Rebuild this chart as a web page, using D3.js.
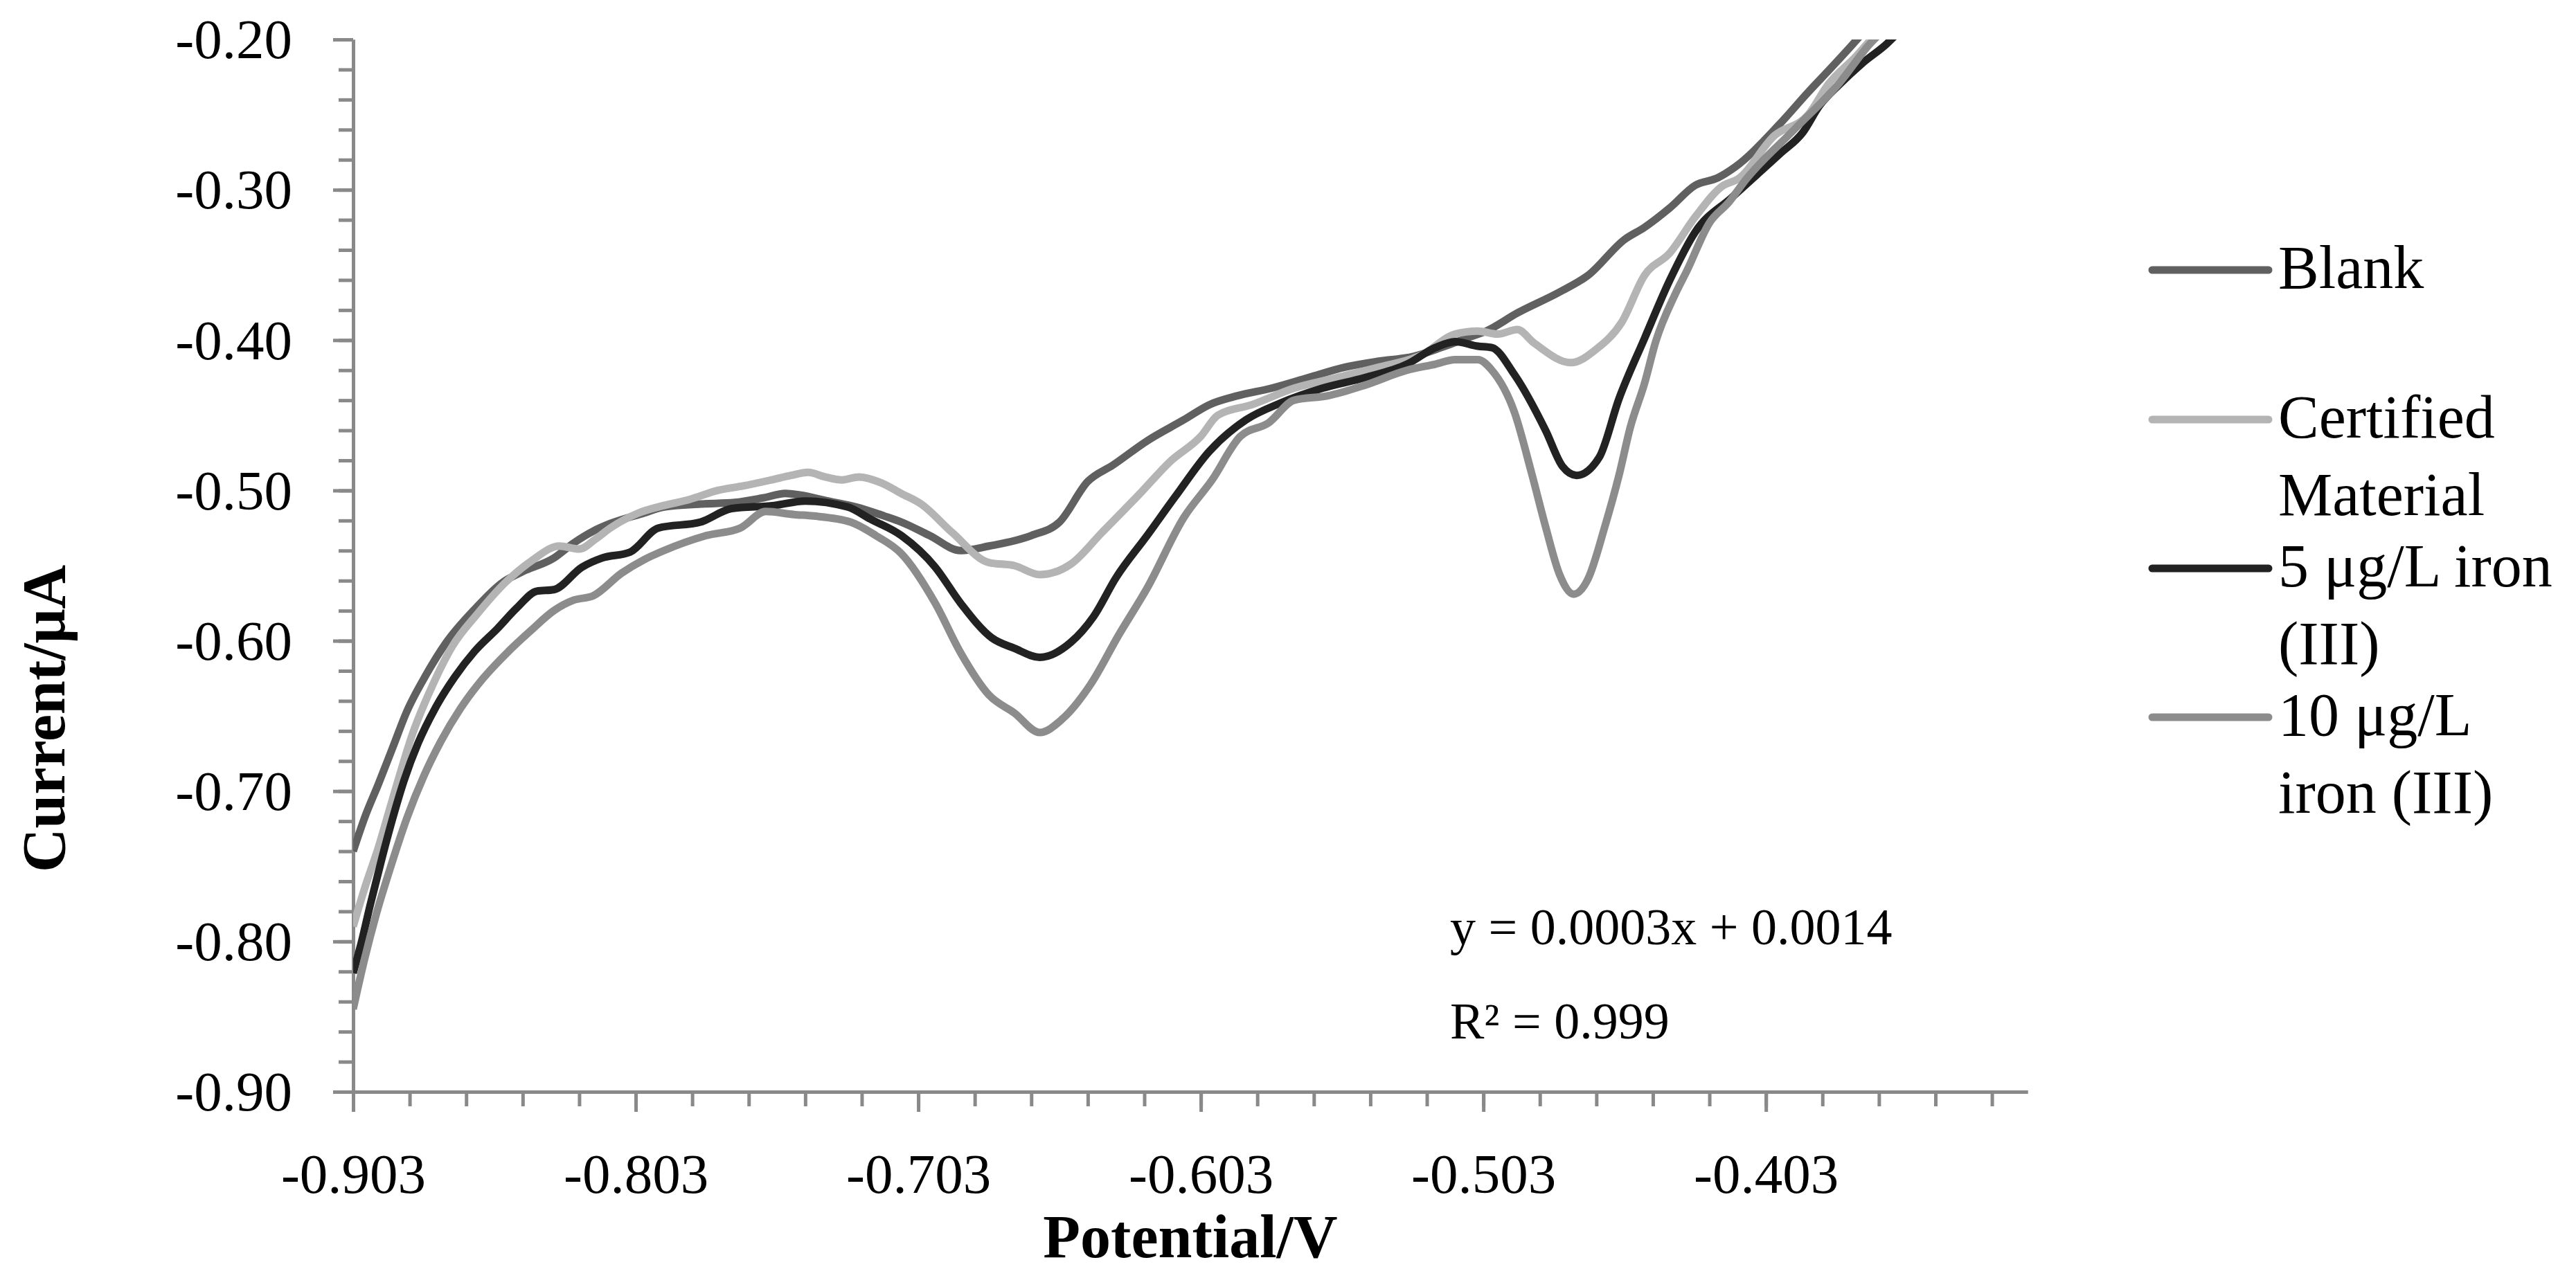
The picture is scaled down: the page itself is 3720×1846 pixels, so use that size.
<!DOCTYPE html>
<html>
<head>
<meta charset="utf-8">
<script src="https://cdn.jsdelivr.net/npm/d3@7/dist/d3.min.js"></script>
<style>
  body { margin: 0; background: #fff; }
  text { font-family: "Liberation Serif", "Times New Roman", serif; fill: #000; }
</style>
</head>
<body>
<svg id="chart"></svg>
<script>
// valeurs : [potentiel V, courant µA]
var blank = [
  [-0.903,-0.740],[-0.899,-0.718],[-0.894,-0.695],[-0.889,-0.671],[-0.884,-0.647],[-0.877,-0.622],
  [-0.870,-0.601],[-0.860,-0.579],[-0.850,-0.561],[-0.843,-0.554],[-0.832,-0.545],[-0.825,-0.535],
  [-0.818,-0.527],[-0.812,-0.522],[-0.800,-0.515],[-0.793,-0.511],[-0.780,-0.509],[-0.768,-0.508],
  [-0.758,-0.505],[-0.750,-0.502],[-0.745,-0.503],[-0.735,-0.507],[-0.725,-0.511],[-0.715,-0.517],
  [-0.709,-0.521],[-0.699,-0.530],[-0.688,-0.540],[-0.678,-0.537],[-0.663,-0.530],[-0.653,-0.521],
  [-0.643,-0.494],[-0.634,-0.483],[-0.622,-0.467],[-0.609,-0.453],[-0.600,-0.443],[-0.590,-0.437],
  [-0.578,-0.432],[-0.565,-0.425],[-0.552,-0.418],[-0.540,-0.414],[-0.528,-0.411],[-0.518,-0.405],
  [-0.508,-0.398],[-0.502,-0.394],[-0.491,-0.382],[-0.476,-0.368],[-0.466,-0.357],[-0.453,-0.333],
  [-0.446,-0.325],[-0.437,-0.312],[-0.428,-0.297],[-0.420,-0.292],[-0.414,-0.285],[-0.398,-0.256],
  [-0.388,-0.235],[-0.380,-0.219],[-0.371,-0.2005],[-0.368,-0.194]
]
var certified = [
  [-0.903,-0.790],[-0.899,-0.765],[-0.894,-0.737],[-0.889,-0.705],[-0.882,-0.662],[-0.875,-0.630],
  [-0.868,-0.604],[-0.859,-0.582],[-0.849,-0.561],[-0.840,-0.547],[-0.830,-0.537],[-0.823,-0.539],
  [-0.817,-0.532],[-0.812,-0.525],[-0.802,-0.515],[-0.793,-0.510],[-0.784,-0.506],[-0.774,-0.500],
  [-0.765,-0.497],[-0.755,-0.493],[-0.748,-0.490],[-0.742,-0.488],[-0.736,-0.491],[-0.730,-0.493],
  [-0.724,-0.491],[-0.716,-0.495],[-0.709,-0.502],[-0.702,-0.509],[-0.691,-0.528],[-0.678,-0.548],
  [-0.669,-0.550],[-0.660,-0.556],[-0.649,-0.549],[-0.638,-0.528],[-0.624,-0.501],[-0.614,-0.481],
  [-0.603,-0.464],[-0.597,-0.450],[-0.585,-0.443],[-0.570,-0.432],[-0.555,-0.425],[-0.540,-0.418],
  [-0.525,-0.410],[-0.513,-0.396],[-0.505,-0.394],[-0.498,-0.396],[-0.491,-0.393],[-0.485,-0.402],
  [-0.472,-0.415],[-0.463,-0.406],[-0.454,-0.388],[-0.446,-0.357],[-0.437,-0.342],[-0.428,-0.318],
  [-0.418,-0.297],[-0.413,-0.293],[-0.400,-0.264],[-0.388,-0.250],[-0.381,-0.230],[-0.371,-0.211],
  [-0.366,-0.2005],[-0.363,-0.195]
]
var iron5 = [
  [-0.903,-0.821],[-0.900,-0.800],[-0.897,-0.776],[-0.893,-0.746],[-0.889,-0.718],[-0.885,-0.693],
  [-0.880,-0.668],[-0.874,-0.645],[-0.867,-0.624],[-0.860,-0.607],[-0.852,-0.592],[-0.845,-0.578],
  [-0.838,-0.567],[-0.832,-0.566],[-0.822,-0.551],[-0.815,-0.545],[-0.805,-0.541],[-0.795,-0.525],
  [-0.780,-0.521],[-0.769,-0.512],[-0.754,-0.510],[-0.743,-0.507],[-0.728,-0.511],[-0.720,-0.519],
  [-0.709,-0.530],[-0.697,-0.551],[-0.688,-0.575],[-0.677,-0.598],[-0.669,-0.605],[-0.660,-0.611],
  [-0.649,-0.601],[-0.641,-0.584],[-0.633,-0.558],[-0.622,-0.530],[-0.612,-0.504],[-0.600,-0.474],
  [-0.587,-0.453],[-0.575,-0.442],[-0.560,-0.432],[-0.545,-0.425],[-0.530,-0.416],[-0.520,-0.405],
  [-0.513,-0.401],[-0.505,-0.404],[-0.500,-0.405],[-0.492,-0.423],[-0.481,-0.460],[-0.475,-0.484],
  [-0.470,-0.490],[-0.462,-0.478],[-0.455,-0.439],[-0.446,-0.399],[-0.437,-0.360],[-0.428,-0.328],
  [-0.415,-0.305],[-0.398,-0.276],[-0.390,-0.262],[-0.384,-0.244],[-0.377,-0.230],[-0.369,-0.216],
  [-0.360,-0.2025],[-0.356,-0.195]
]
var iron10 = [
  [-0.903,-0.845],[-0.899,-0.812],[-0.895,-0.783],[-0.890,-0.752],[-0.884,-0.718],[-0.878,-0.690],
  [-0.872,-0.667],[-0.865,-0.645],[-0.857,-0.625],[-0.848,-0.607],[-0.840,-0.593],[-0.832,-0.580],
  [-0.825,-0.573],[-0.818,-0.570],[-0.808,-0.555],[-0.800,-0.546],[-0.793,-0.540],[-0.778,-0.530],
  [-0.766,-0.525],[-0.757,-0.514],[-0.747,-0.516],[-0.740,-0.517],[-0.727,-0.521],[-0.718,-0.530],
  [-0.709,-0.542],[-0.697,-0.575],[-0.688,-0.608],[-0.678,-0.636],[-0.669,-0.648],[-0.660,-0.661],
  [-0.652,-0.652],[-0.642,-0.629],[-0.632,-0.596],[-0.622,-0.565],[-0.609,-0.518],[-0.599,-0.493],
  [-0.589,-0.464],[-0.579,-0.455],[-0.570,-0.440],[-0.558,-0.437],[-0.545,-0.430],[-0.530,-0.420],
  [-0.520,-0.416],[-0.513,-0.413],[-0.505,-0.413],[-0.500,-0.420],[-0.492,-0.448],[-0.486,-0.488],
  [-0.481,-0.524],[-0.476,-0.556],[-0.471,-0.569],[-0.466,-0.559],[-0.460,-0.524],[-0.455,-0.490],
  [-0.451,-0.458],[-0.446,-0.429],[-0.442,-0.401],[-0.435,-0.369],[-0.431,-0.354],[-0.423,-0.322],
  [-0.416,-0.308],[-0.410,-0.293],[-0.393,-0.260],[-0.377,-0.229],[-0.366,-0.2025],[-0.362,-0.195]
]

var series = [blank, certified, iron5, iron10]
var seriesNames = [["Blank"], ["Certified", "Material"], ["5 μg/L iron", "(III)"], ["10 μg/L", "iron (III)"]]
var seriesColors = ["#606060", "#b4b4b4", "#222222", "#8c8c8c"]

var xMajor = [-0.903, -0.803, -0.703, -0.603, -0.503, -0.403]
var yMajor = [-0.9, -0.8, -0.7, -0.6, -0.5, -0.4, -0.3, -0.2]
var equation = ["y = 0.0003x + 0.0014", "R² = 0.999"]

var W = 3720, H = 1846
var plotLeft = 510, plotRight = 2928, plotTop = 57, plotBottom = 1577
var axisColor = "#898989"

var svg = d3.select("#chart").attr("width", W).attr("height", H)

var x = d3.scaleLinear().domain([-0.903, -0.3104]).range([plotLeft, plotRight])
var y = d3.scaleLinear().domain([-0.9, -0.2]).range([plotBottom, plotTop])

// ticks mineurs tous les 0.02
var xMinor = d3.range(0, 30).map(function(k){ return -0.903 + k * 0.02 })
var yMinor = d3.range(0, 36).map(function(k){ return -0.9 + k * 0.02 })

// tiret simple comme dans Excel
function fmt(n){
  return function(d){ return d.toFixed(n) }
}

function styleAxis(g){
  g.select(".domain").attr("stroke", axisColor).attr("stroke-width", 5)
  g.selectAll(".tick line").attr("stroke", axisColor).attr("stroke-width", 5)
  g.selectAll("text").attr("font-family", "Liberation Serif").attr("font-size", 81).attr("fill", "#000")
}

// axe x
svg.append("g").attr("transform", "translate(0," + plotBottom + ")")
  .call(d3.axisBottom(x).tickValues(xMinor).tickSize(21).tickSizeOuter(0).tickFormat(""))
  .call(styleAxis)
svg.append("g").attr("transform", "translate(0," + plotBottom + ")")
  .call(d3.axisBottom(x).tickValues(xMajor).tickSize(29).tickSizeOuter(0).tickFormat(fmt(3)))
  .call(styleAxis)
  .call(function(g){
    g.selectAll("text").attr("y", 146).attr("dy", null)
  })

// axe y
svg.append("g").attr("transform", "translate(" + plotLeft + ",0)")
  .call(d3.axisLeft(y).tickValues(yMinor).tickSize(21).tickSizeOuter(0).tickFormat(""))
  .call(styleAxis)
svg.append("g").attr("transform", "translate(" + plotLeft + ",0)")
  .call(d3.axisLeft(y).tickValues(yMajor).tickSize(29).tickSizeOuter(0).tickFormat(fmt(2)))
  .call(styleAxis)
  .call(function(g){
    g.selectAll("text").attr("x", -88).attr("dy", "0.33em")
  })

// titres des axes
svg.append("text")
  .text("Potential/V")
  .attr("x", (plotLeft + plotRight) / 2)
  .attr("y", 1816)
  .attr("text-anchor", "middle")
  .attr("font-weight", "bold")
  .attr("font-size", 88)

svg.append("text")
  .text("Current/μA")
  .attr("transform", "translate(93,1038) rotate(-90)")
  .attr("text-anchor", "middle")
  .attr("font-weight", "bold")
  .attr("font-size", 88)

// courbes
svg.append("clipPath").attr("id", "zone")
  .append("rect")
  .attr("x", plotLeft).attr("y", plotTop)
  .attr("width", plotRight - plotLeft).attr("height", plotBottom - plotTop)

var line = d3.line()
  .x(function(d){ return x(d[0]) })
  .y(function(d){ return y(d[1]) })
  .curve(d3.curveMonotoneX)

svg.append("g").attr("clip-path", "url(#zone)")
  .selectAll("path")
  .data(series)
  .enter()
  .append("path")
  .attr("d", line)
  .attr("fill", "none")
  .attr("stroke", function(d, i){ return seriesColors[i] })
  .attr("stroke-width", 11)
  .attr("stroke-linejoin", "round")

// équation
equation.forEach(function(t, i){
  svg.append("text")
    .text(t)
    .attr("x", 2094)
    .attr("y", 1364 + i * 136)
    .attr("font-size", 74)
})

// légende
var legendY = [390, 606, 821, 1036]
seriesNames.forEach(function(lines, i){
  svg.append("line")
    .attr("x1", 3108).attr("x2", 3276)
    .attr("y1", legendY[i]).attr("y2", legendY[i])
    .attr("stroke", seriesColors[i])
    .attr("stroke-width", 11)
    .attr("stroke-linecap", "round")
  lines.forEach(function(t, j){
    svg.append("text")
      .text(t)
      .attr("x", 3290)
      .attr("y", legendY[i] + 26 + j * 112)
      .attr("font-size", 88)
  })
})
</script>
</body>
</html>
